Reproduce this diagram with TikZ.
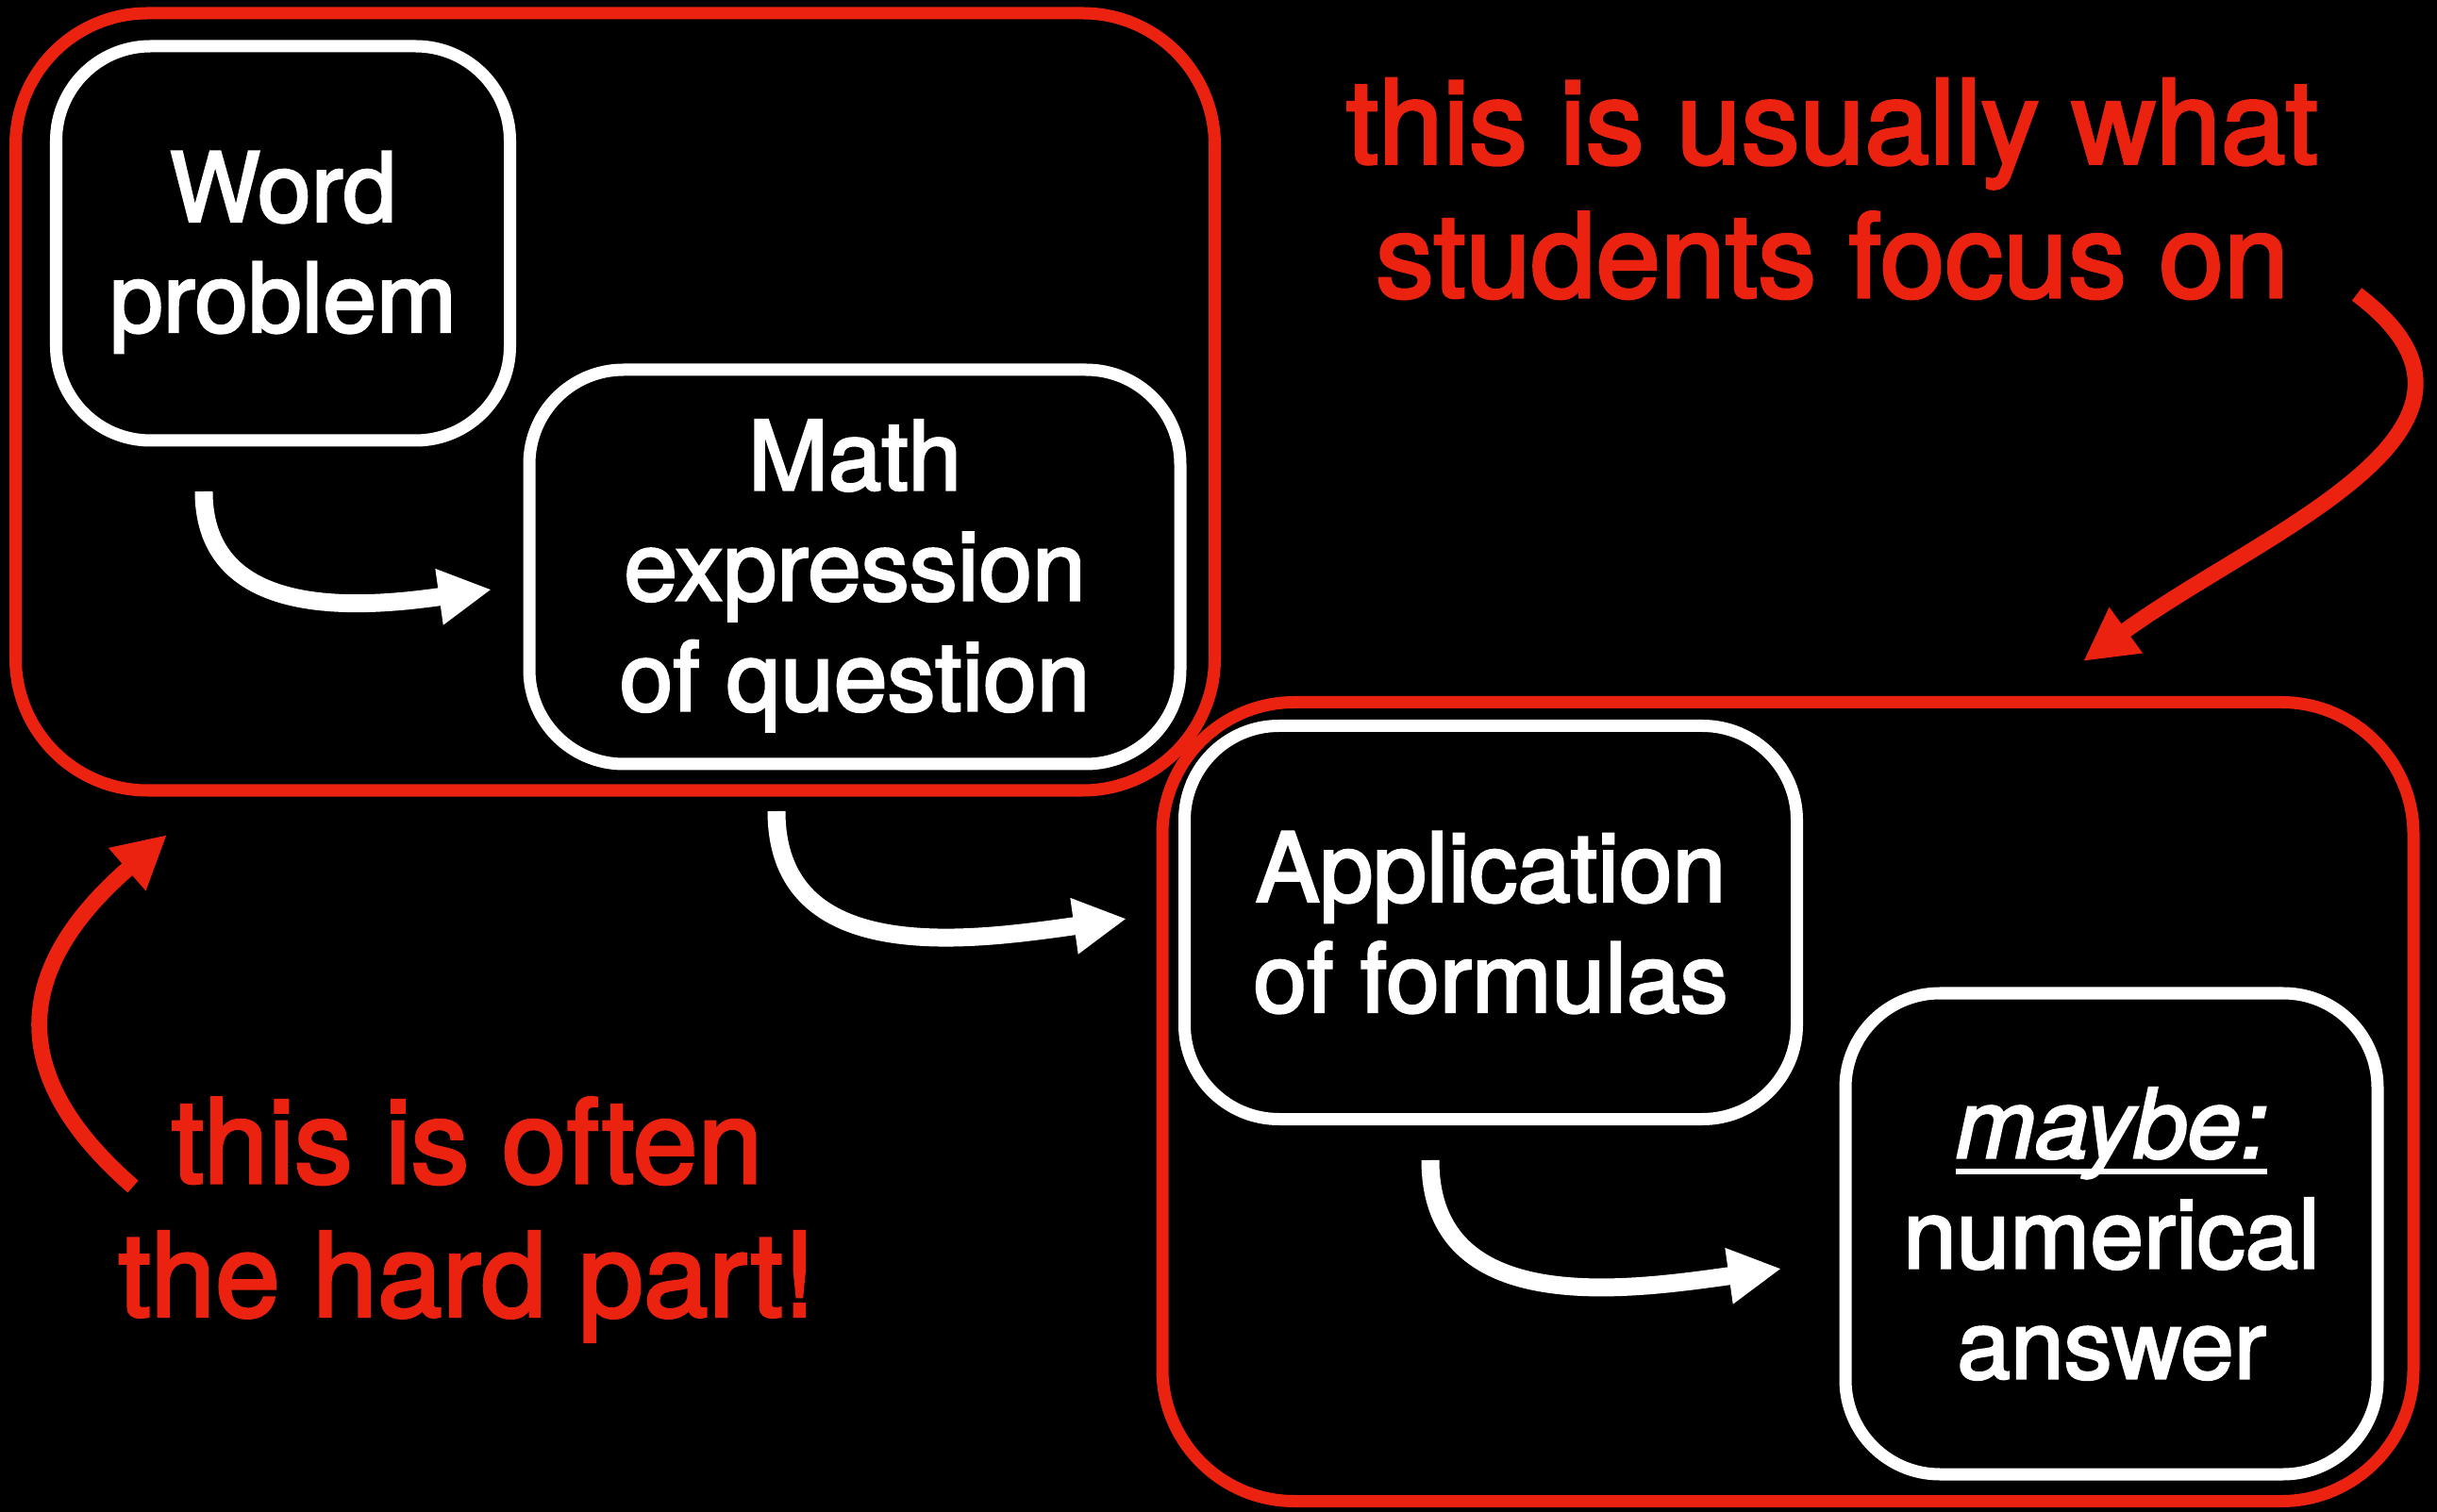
\documentclass[tikz,border=0pt]{standalone}
\usepackage{fontspec}
\setmainfont{TeX Gyre Heros}[FakeBold=2.5]
\usetikzlibrary{arrows.meta}
\definecolor{hotred}{RGB}{236,34,16}
\newcommand\ulword[1]{\setbox0\hbox{#1}\rlap{\rule[-0.17em]{\wd0}{1.6pt}}\box0}
\newcommand\topstrut{\rule{0pt}{0.93cm}}

\begin{document}
\begin{tikzpicture}[
    group/.style={draw=hotred, line width=3.7pt, rounded corners=1.4cm},
    card/.style={draw=white, line width=3.7pt, rounded corners=1.0cm,
                 text=white, align=center, font=\fontsize{29}{33.3}\selectfont},
    note/.style={text=hotred, align=center, font=\fontsize{35.2}{40.3}\selectfont},
    warr/.style={-{Triangle[length=0.56cm, width=0.56cm]}, white, line width=5.4pt},
    rarr/.style={-{Triangle[length=0.56cm, width=0.56cm]}, hotred, line width=4.8pt}
  ]
  \fill[black] (0,0) rectangle (25.83,-16.03);
  \useasboundingbox (0,0) rectangle (25.83,-16.03);

  % red groups
  \node[group, minimum width=12.71cm, minimum height=8.24cm] (topgroup) at (6.52,-4.26) {};
  \node[group, minimum width=13.26cm, minimum height=8.47cm] (botgroup) at (18.95,-11.68) {};

  % steps
  \node[card, minimum width=4.81cm, minimum height=4.18cm] (word) at (3.00,-2.58) {\topstrut Word\\problem};
  \node[card, minimum width=6.90cm, minimum height=4.18cm] (mathexpr) at (9.06,-6.01) {\topstrut Math\\expression\\of question};
  \node[card, minimum width=6.49cm, minimum height=4.17cm] (formulas) at (15.80,-9.78) {Application\\of formulas};
  \node[card, minimum width=5.64cm, minimum height=5.10cm] (answer) at (22.38,-13.08) {\ulword{\itshape maybe:}\\numerical\\answer};

  % white arrows
  \coordinate (w1) at (2.16,-5.21);  \coordinate (w1e) at (5.21,-6.25);
  \coordinate (w2) at (8.23,-8.60);  \coordinate (w2e) at (11.94,-9.74);
  \coordinate (w3) at (15.16,-12.30); \coordinate (w3e) at (18.88,-13.45);
  \draw[warr] (w1) to[out=-90, in=188, looseness=1.1] (w1e);
  \draw[warr] (w2) to[out=-90, in=188, looseness=1.1] (w2e);
  \draw[warr] (w3) to[out=-90, in=188, looseness=1.1] (w3e);

  % notes
  \node[note] (focus) at (19.42,-2.00) {this is usually what\\students focus on};
  \node[note] (hard) at (4.95,-12.93) {this is often\\the hard part!};

  % red arrows
  \coordinate (r1) at (24.98,-3.12); \coordinate (r1e) at (22.08,-7.01);
  \coordinate (r2) at (1.41,-12.58); \coordinate (r2e) at (1.77,-8.85);
  \draw[rarr] (r1) to[out=-37, in=36, looseness=1.25] (r1e);
  \draw[rarr] (r2) to[out=139, in=221, looseness=1.35] (r2e);
\end{tikzpicture}
\end{document}
